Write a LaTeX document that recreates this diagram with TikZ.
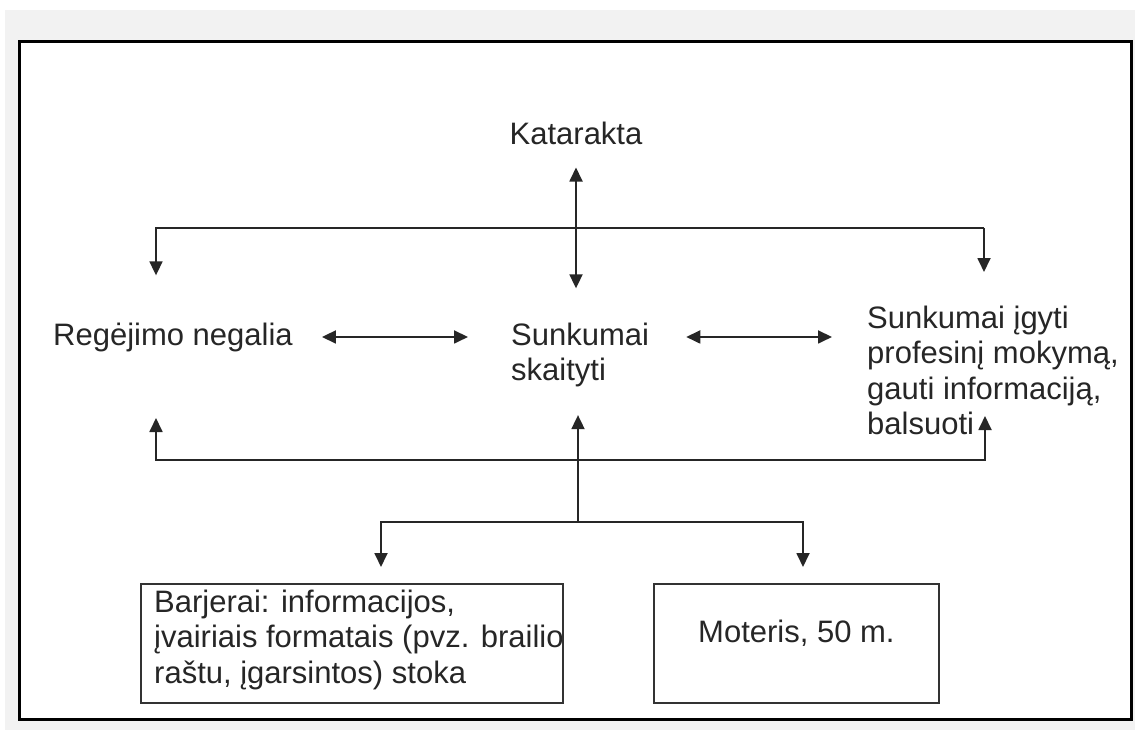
\documentclass[tikz,border=0pt]{standalone}
\usepackage{fontspec}
\setmainfont{Liberation Sans}
\usetikzlibrary{arrows.meta}

\begin{document}
\begin{tikzpicture}[x=1pt, y=-1pt,
    lbl/.style={inner sep=0pt, align=left, text=black!85, font=\fontsize{31}{35.5}\selectfont},
    arr/.style={line width=1.8pt, draw=black!85, -{Triangle[length=14pt, width=13pt]}},
    dbl/.style={arr, {Triangle[length=14pt, width=13pt]}-{Triangle[length=14pt, width=13pt]}},
    box/.style={draw=black!80, line width=1.8pt, inner sep=0pt, anchor=north west}]
            \useasboundingbox (0,0) rectangle (1135,730);
            \fill[black!5] (5,10) rectangle (1135,730);
            \draw[line width=3pt, fill=white] (19,42) rectangle (1131,719);

            \node[lbl, anchor=base] (kat) at (576,145) {Katarakta};
            \node[lbl, anchor=base west] (reg) at (53,345) {Regėjimo negalia};
            \node[lbl, anchor=base west] (sks) at (511,380.5) {Sunkumai\\skaityti};
            \node[lbl, anchor=base west] (prof) at (867,434.5) {Sunkumai įgyti\\profesinį mokymą,\\gauti informaciją,\\balsuoti};
            \node[lbl, anchor=base west] (bartxt) at (154,683) {Barjerai: informacijos,\\įvairiais formatais (pvz. brailio\\raštu, įgarsintos) stoka};
            \node[box, minimum width=422pt, minimum height=119pt] (bar) at (140,583) {};
            \node[box, minimum width=285pt, minimum height=119pt] (mot) at (653,583) {};
            \node[lbl, anchor=base] (mottxt) at (mot.center |- 0,642) {Moteris, 50 m.};

            \coordinate (tl) at (156,228);
            \coordinate (tr) at (984,228);
            \coordinate (trtip) at (984,272);
            \coordinate (bl) at (156,460);
            \coordinate (bltip) at (156,418);
            \coordinate (br) at (985,460);
            \coordinate (brtip) at (985,416);
            \coordinate (mj) at (578,522);
            \coordinate (ml) at (381,522);
            \coordinate (mr) at (803,522);

            \draw[dbl, shorten <=22pt, shorten >=34pt] (kat.south) -- (kat.south |- sks.north);
            \draw[arr, shorten >=47pt] (tr) -- (tl) -- (tl |- reg.north);
            \draw[arr] (tr) -- (trtip);
            \draw[dbl, shorten <=29pt, shorten >=43pt] (reg.east) -- (reg.east -| sks.west);
            \draw[dbl, shorten <=37pt, shorten >=35pt] (reg.east -| sks.east) -- (reg.east -| prof.west);
            \draw[arr] (br) -- (bl) -- (bltip);
            \draw[arr] (bl) -- (br) -- (brtip);
            \draw[arr, shorten >=28pt] (mj) -- (mj |- sks.south);
            \draw[arr, shorten >=16pt] (mj) -- (ml) -- (ml |- bar.north);
            \draw[arr, shorten >=16pt] (mj) -- (mr) -- (mr |- mot.north);
        \end{tikzpicture}
\end{document}
